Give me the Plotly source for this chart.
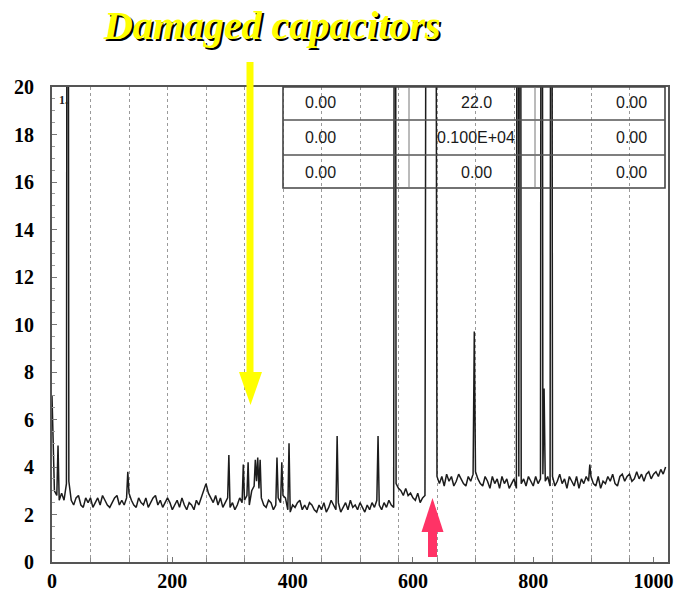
import plotly.graph_objects as go

# Spectrum baseline, sampled every 4 channels (channel 0 .. 1020)
base_start, base_step = 0, 4
base_counts = [
    7.0, 3.0, 2.8, 2.6, 2.9, 2.6, 3.3, 3.4, 2.6, 2.4, 2.7, 2.8, 2.4, 2.3, 2.7, 2.5,
    2.7, 2.3, 2.5, 2.7, 2.4, 2.8, 2.6, 2.4, 2.3, 2.5, 2.7, 2.8, 2.4, 2.6, 2.4, 2.7,
    2.9, 2.6, 2.4, 2.3, 2.7, 2.5, 2.4, 2.7, 2.3, 2.5, 2.7, 2.8, 2.4, 2.6, 2.3, 2.5,
    2.7, 2.5, 2.2, 2.4, 2.6, 2.3, 2.7, 2.4, 2.2, 2.5, 2.4, 2.2, 2.6, 2.4, 2.7, 3.0,
    3.3, 2.9, 2.7, 2.5, 2.8, 2.4, 2.7, 2.3, 2.5, 2.7, 2.3, 2.5, 2.2, 2.4, 2.7, 2.5,
    2.6, 2.8, 2.4, 3.0, 3.2, 3.4, 3.1, 2.7, 2.4, 2.3, 2.6, 2.5, 2.2, 2.4, 2.7, 2.5,
    2.8, 2.7, 2.2, 2.1, 2.4, 2.3, 2.5, 2.6, 2.2, 2.4, 2.2, 2.5, 2.4, 2.2, 2.1, 2.4,
    2.2, 2.5, 2.1, 2.3, 2.6, 2.4, 2.2, 2.5, 2.1, 2.3, 2.5, 2.2, 2.6, 2.3, 2.4, 2.2,
    2.5, 2.3, 2.1, 2.4, 2.2, 2.5, 2.3, 2.6, 2.4, 2.2, 2.5, 2.3, 2.6, 2.4, 2.3, 3.3,
    3.1, 3.0, 2.8, 3.1, 2.8, 2.9, 2.7, 2.6, 2.9, 2.5, 2.7, 2.8, 60.0, 60.0, 60.0, 60.0,
    3.6, 3.3, 3.6, 3.2, 3.7, 3.4, 3.6, 3.2, 3.4, 3.7, 3.5, 3.3, 3.2, 3.6, 3.4, 3.7,
    3.8, 3.5, 3.3, 3.2, 3.6, 3.4, 3.1, 3.6, 3.3, 3.5, 3.1, 3.6, 3.3, 3.5, 3.1, 3.3,
    3.5, 3.1, 3.6, 3.3, 3.5, 3.2, 3.6, 3.4, 3.2, 3.6, 3.3, 3.5, 3.7, 3.4, 3.6, 3.2,
    3.6, 3.2, 3.4, 3.7, 3.3, 3.5, 3.1, 3.6, 3.4, 3.2, 3.6, 3.1, 3.5, 3.3, 3.6, 3.4,
    3.6, 3.3, 3.2, 3.6, 3.1, 3.4, 3.3, 3.6, 3.4, 3.7, 3.3, 3.2, 3.6, 3.7, 3.4, 3.6,
    3.7, 3.4, 3.5, 3.8, 3.5, 3.7, 3.4, 3.7, 3.8, 3.5, 3.7, 3.8, 3.6, 3.9, 3.7, 4.0,
]

# Narrow peaks between the baseline samples
peak_channels = [10, 26, 126, 294, 318, 326, 338, 342, 346, 374, 382, 394,
                 474, 542, 570, 702, 774, 778, 814, 818, 830, 894]
peak_counts = [4.9, 60.0, 3.8, 4.5, 4.1, 4.2, 4.3, 4.4, 4.3, 4.4, 4.2, 5.0,
               5.3, 5.3, 60.0, 9.7, 60.0, 60.0, 60.0, 7.3, 60.0, 4.1]

# Fit-result box shown over the spectrum
table_rows = [
    ["0.00", "22.0", "0.00"],
    ["0.00", "0.100E+04", "0.00"],
    ["0.00", "0.00", "0.00"],
]

x_ticks = [0, 200, 400, 600, 800, 1000]
y_ticks = [0, 2, 4, 6, 8, 10, 12, 14, 16, 18, 20]

base_channels = [base_start + i * base_step for i in range(len(base_counts))]
points = sorted(zip(base_channels + peak_channels, base_counts + peak_counts))
channels = [p[0] for p in points]
counts = [p[1] for p in points]

fig = go.Figure()
fig.add_trace(go.Scatter(
    x=channels, y=counts, mode="lines",
    line=dict(color="#1c1c1c", width=1.5),
    hoverinfo="skip", showlegend=False,
))

serif_bold = dict(family="Liberation Serif, Times New Roman, serif", size=20,
                  color="#000000", weight="bold")

fig.update_layout(
    width=685, height=593,
    margin=dict(l=52, r=17, t=87, b=31),
    paper_bgcolor="white", plot_bgcolor="white",
    showlegend=False,
)
fig.update_xaxes(
    range=[0, 1024], tickvals=x_ticks, ticktext=[str(v) for v in x_ticks],
    tickfont=serif_bold, showgrid=False, zeroline=False, automargin=False,
    showline=True, mirror=True, linecolor="#555555", linewidth=2,
    ticks="inside", ticklen=5, tickcolor="#777777", ticklabelstandoff=0,
    minor=dict(dtick=64, tick0=0, showgrid=True, gridcolor="#9a9a9a",
               griddash="dot", gridwidth=1, ticks="inside", ticklen=4,
               tickcolor="#888888"),
)
fig.update_yaxes(
    range=[0, 20], tickvals=y_ticks, ticktext=[str(v) for v in y_ticks],
    tickfont=serif_bold, showgrid=False, zeroline=False, automargin=False,
    showline=True, mirror=True, linecolor="#555555", linewidth=2,
    ticks="inside", ticklen=5, tickcolor="#777777", ticklabelstandoff=12,
    minor=dict(dtick=0.5, ticks="inside", ticklen=3, tickcolor="#999999"),
)

# pixel -> paper helpers for the plot area (52..668 x 87..562)
def px(xp):
    return (xp - 52) / 616.0


def py(yp):
    return (562 - yp) / 475.0


shapes = []
# table frame, row and column rules
box_l, box_r, box_t, box_b = 283, 665, 87, 188
row_lines = [120, 155]
col_lines = [409, 535]
shapes.append(dict(type="rect", xref="paper", yref="paper",
                   x0=px(box_l), x1=px(box_r), y0=py(box_b), y1=py(box_t),
                   line=dict(color="#444444", width=1.6), layer="above"))
for r in row_lines:
    shapes.append(dict(type="line", xref="paper", yref="paper",
                       x0=px(box_l), x1=px(box_r), y0=py(r), y1=py(r),
                       line=dict(color="#555555", width=1.3)))
for c in col_lines:
    shapes.append(dict(type="line", xref="paper", yref="paper",
                       x0=px(c), x1=px(c), y0=py(box_b), y1=py(box_t),
                       line=dict(color="#777777", width=1)))

# yellow arrow pointing down at the damaged-capacitor region
shapes.append(dict(type="rect", xref="paper", yref="paper",
                   x0=px(246.5), x1=px(253.5), y0=py(374), y1=py(62),
                   fillcolor="#ffff00", line=dict(width=0), layer="above"))
shapes.append(dict(type="path", xref="paper", yref="paper",
                   path=f"M {px(239)} {py(372)} L {px(262)} {py(372)} L {px(250.5)} {py(405)} Z",
                   fillcolor="#ffff00", line=dict(width=0), layer="above"))
# pink arrow pointing up at the step
shapes.append(dict(type="rect", xref="paper", yref="paper",
                   x0=px(428), x1=px(437), y0=py(557), y1=py(531),
                   fillcolor="#ff3366", line=dict(width=0), layer="above"))
shapes.append(dict(type="path", xref="paper", yref="paper",
                   path=f"M {px(421.5)} {py(532)} L {px(443.5)} {py(532)} L {px(432.5)} {py(498)} Z",
                   fillcolor="#ff3366", line=dict(width=0), layer="above"))
fig.update_layout(shapes=shapes)

annotations = []
row_y = [103, 137, 172]
col_x = [(303, "left"), (476, "center"), (649, "right")]
for r, row in enumerate(table_rows):
    for c, txt in enumerate(row):
        xp, anchor = col_x[c]
        annotations.append(dict(
            x=px(xp), y=py(row_y[r]), xref="paper", yref="paper",
            xanchor=anchor, yanchor="middle", text=txt, showarrow=False,
            font=dict(family="Liberation Sans, Arial, sans-serif", size=16,
                      color="#1a1a1a"),
        ))

annotations.append(dict(
    x=px(57), y=py(100), xref="paper", yref="paper", xanchor="left",
    yanchor="middle", text="1.", showarrow=False,
    font=dict(family="Liberation Serif, serif", size=12, color="#222222",
              weight="bold"),
))

annotations.append(dict(
    x=px(272), y=py(25), xref="paper", yref="paper", xanchor="center",
    yanchor="middle", text="Damaged capacitors", showarrow=False,
    font=dict(family="Liberation Serif, Times New Roman, serif", size=40,
              color="#ffff00", weight="bold", style="italic",
              shadow="2px 2px 0px #000000"),
))
fig.update_layout(annotations=annotations)

fig.write_html("out.html")
